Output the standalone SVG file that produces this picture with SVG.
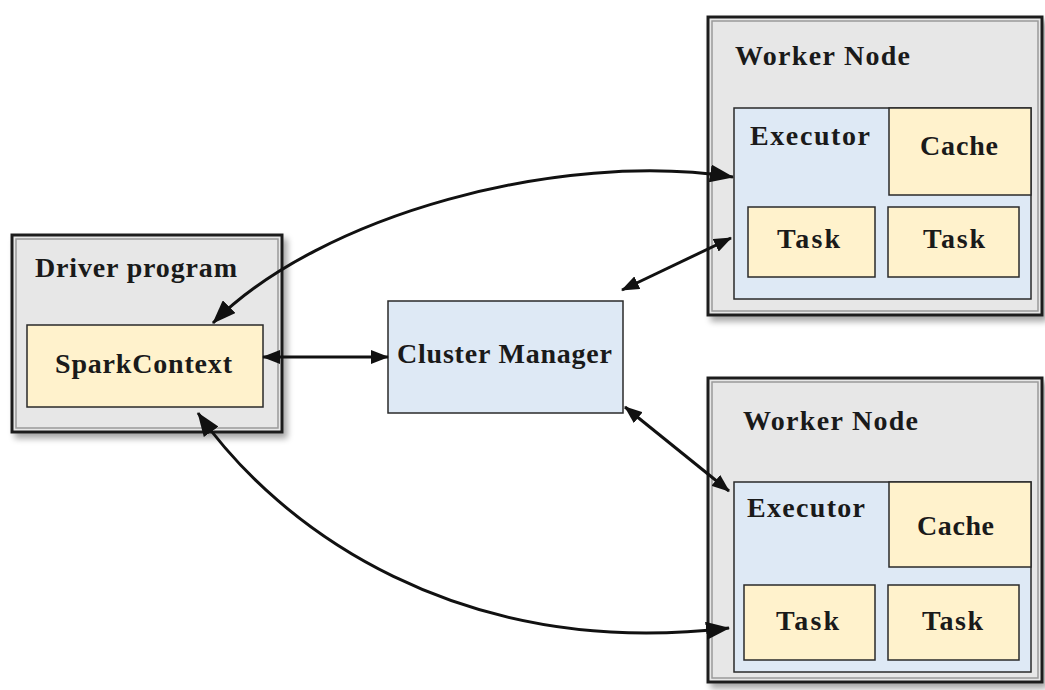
<svg xmlns="http://www.w3.org/2000/svg" width="1045" height="690" viewBox="0 0 1045 690">
<defs>
<style>
.outer{fill:#e7e7e7;stroke:#1e1e1e;stroke-width:3}
.inner{fill:none;stroke:#9a9a9a;stroke-width:1.5}
.yel{fill:#fff2cc;stroke:#2a2a2a;stroke-width:1.5}
.blu{fill:#dee9f5;stroke:#2a2a2a;stroke-width:1.5}
.t{font-family:"Liberation Serif","Times New Roman",serif;font-weight:bold;font-size:28px;fill:#1a1a1a}
.c{fill:none;stroke:#111;stroke-width:3}
</style>
<filter id="sh" x="-10%" y="-10%" width="125%" height="125%">
<feGaussianBlur in="SourceAlpha" stdDeviation="3"/>
<feOffset dx="4" dy="5" result="b"/>
<feComponentTransfer><feFuncA type="linear" slope="0.35"/></feComponentTransfer>
<feMerge><feMergeNode/><feMergeNode in="SourceGraphic"/></feMerge>
</filter>
<marker id="ah" viewBox="0 0 24 18" refX="23" refY="9" markerWidth="24" markerHeight="18" markerUnits="userSpaceOnUse" orient="auto-start-reverse">
<path d="M0,0 L24,9 L0,18 z" fill="#111"/>
</marker>
<marker id="as" viewBox="0 0 18 14" refX="17" refY="7" markerWidth="18" markerHeight="14" markerUnits="userSpaceOnUse" orient="auto-start-reverse">
<path d="M0,0 L18,7 L0,14 z" fill="#111"/>
</marker>
</defs>
<rect width="1045" height="690" fill="#ffffff"/>

<g id="driver">
<rect class="outer" x="12" y="235" width="270" height="197" filter="url(#sh)"/>
<rect class="inner" x="16" y="239" width="262" height="189"/>
<text class="t" x="35" y="277" textLength="202">Driver program</text>
<g id="sparkcontext">
<rect class="yel" x="27" y="325" width="236" height="82"/>
<text class="t" x="55" y="373" textLength="177">SparkContext</text>
</g>
</g>

<g id="cluster-manager">
<rect class="blu" x="388" y="301" width="235" height="112"/>
<text class="t" x="397" y="363" textLength="215">Cluster Manager</text>
</g>

<g id="worker1">
<rect class="outer" x="708" y="17" width="334" height="298" filter="url(#sh)"/>
<rect class="inner" x="712" y="21" width="326" height="290"/>
<text class="t" x="735" y="65" textLength="175">Worker Node</text>
<g id="executor1">
<rect class="blu" x="734" y="108" width="297" height="191"/>
<text class="t" x="750" y="145" textLength="120">Executor</text>
<rect class="yel" x="889" y="108" width="142" height="87"/>
<text class="t" x="920" y="155" textLength="78">Cache</text>
<rect class="yel" x="748" y="207" width="127" height="70"/>
<text class="t" x="777" y="248" textLength="63">Task</text>
<rect class="yel" x="888" y="207" width="131" height="70"/>
<text class="t" x="923" y="248" textLength="62">Task</text>
</g>
</g>

<g id="worker2">
<rect class="outer" x="708" y="378" width="334" height="304" filter="url(#sh)"/>
<rect class="inner" x="712" y="382" width="326" height="296"/>
<text class="t" x="743" y="430" textLength="175">Worker Node</text>
<g id="executor2">
<rect class="blu" x="734" y="482" width="297" height="190"/>
<text class="t" x="747" y="517" textLength="118">Executor</text>
<rect class="yel" x="889" y="482" width="142" height="85"/>
<text class="t" x="917" y="535" textLength="77">Cache</text>
<rect class="yel" x="744" y="585" width="131" height="75"/>
<text class="t" x="776" y="630" textLength="63">Task</text>
<rect class="yel" x="888" y="585" width="131" height="75"/>
<text class="t" x="922" y="630" textLength="61">Task</text>
</g>
</g>

<g id="connectors">
<path class="c" d="M263,357 L388,357" stroke-width="3.5" marker-start="url(#as)" marker-end="url(#as)"/>
<path class="c" d="M213,323 C320,215 560,150 733,177" marker-start="url(#ah)" marker-end="url(#ah)"/>
<path class="c" d="M198,413 C280,530 460,660 729,628" marker-start="url(#ah)" marker-end="url(#ah)"/>
<path class="c" d="M622,290 L731,238" marker-start="url(#as)" marker-end="url(#as)"/>
<path class="c" d="M625,407 L729,491" marker-start="url(#as)" marker-end="url(#as)"/>
</g>
</svg>
